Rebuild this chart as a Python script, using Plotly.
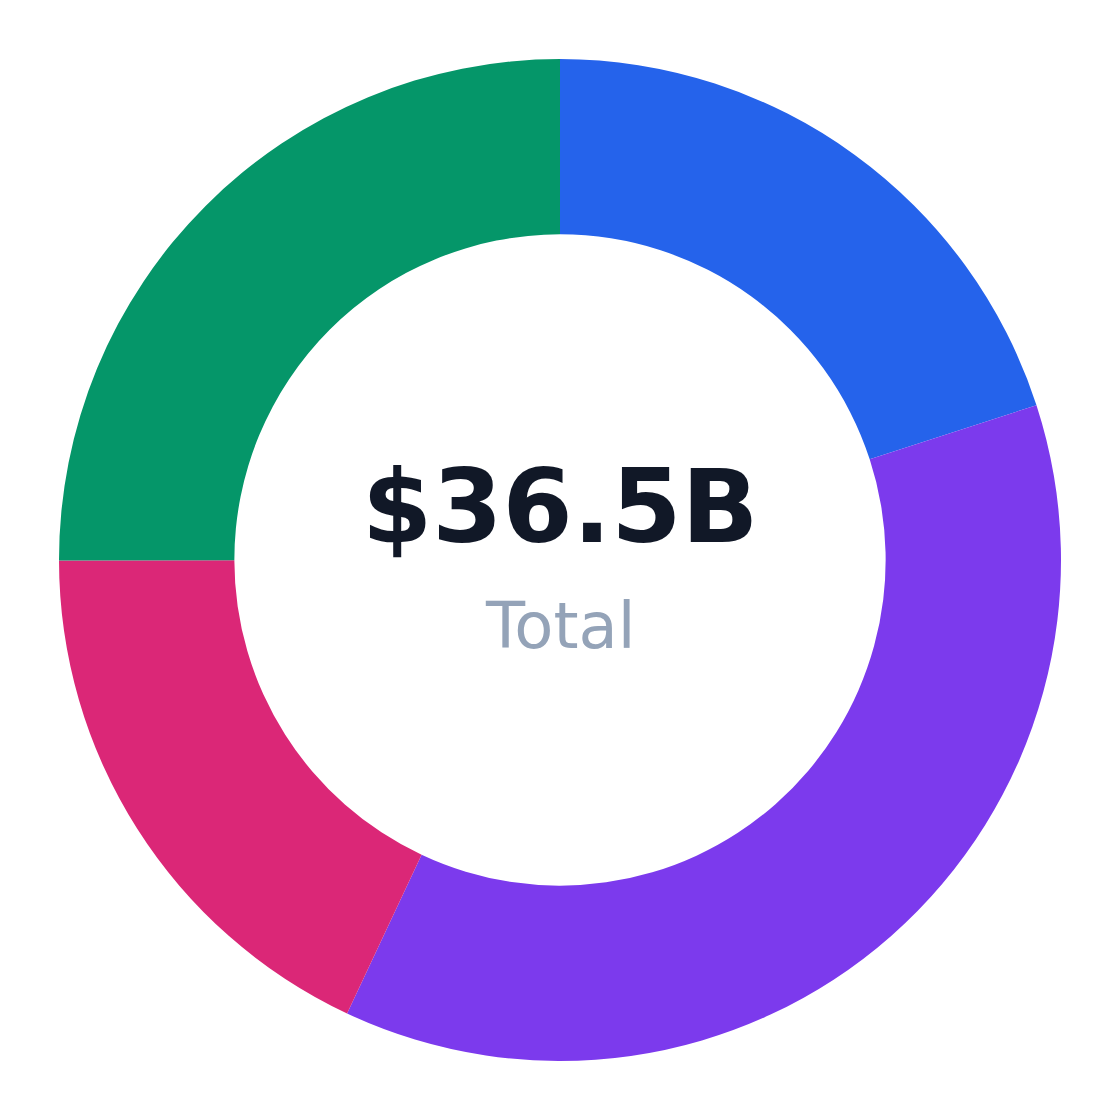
import plotly.graph_objects as go

# Segment data (billions USD)
labels = ["Segment A", "Segment B", "Segment C", "Segment D"]
values = [7.30, 13.50, 6.57, 9.13]
colors = ["#2563eb", "#7c3aed", "#db2777", "#059669"]
total_label = "$36.5B"
sub_label = "Total"

fig = go.Figure(go.Pie(labels=labels, values=values, hole=0.65,
                       sort=False, direction="clockwise", rotation=0,
                       marker=dict(colors=colors, line=dict(width=0)),
                       textinfo="none", showlegend=False))

fig.update_layout(width=1104, height=1104,
                  margin=dict(l=51, r=51, t=51, b=51),
                  paper_bgcolor="white", plot_bgcolor="white",
                  font=dict(family="DejaVu Sans"),
                  annotations=[
                      dict(text="<b>" + total_label + "</b>", x=0.5, y=0.553,
                           xref="paper", yref="paper", showarrow=False,
                           font=dict(size=101, color="#111827", family="DejaVu Sans")),
                      dict(text=sub_label, x=0.5, y=0.434,
                           xref="paper", yref="paper", showarrow=False,
                           font=dict(size=64, color="#94a3b8", family="DejaVu Sans")),
                  ])

fig.write_html("out.html")
